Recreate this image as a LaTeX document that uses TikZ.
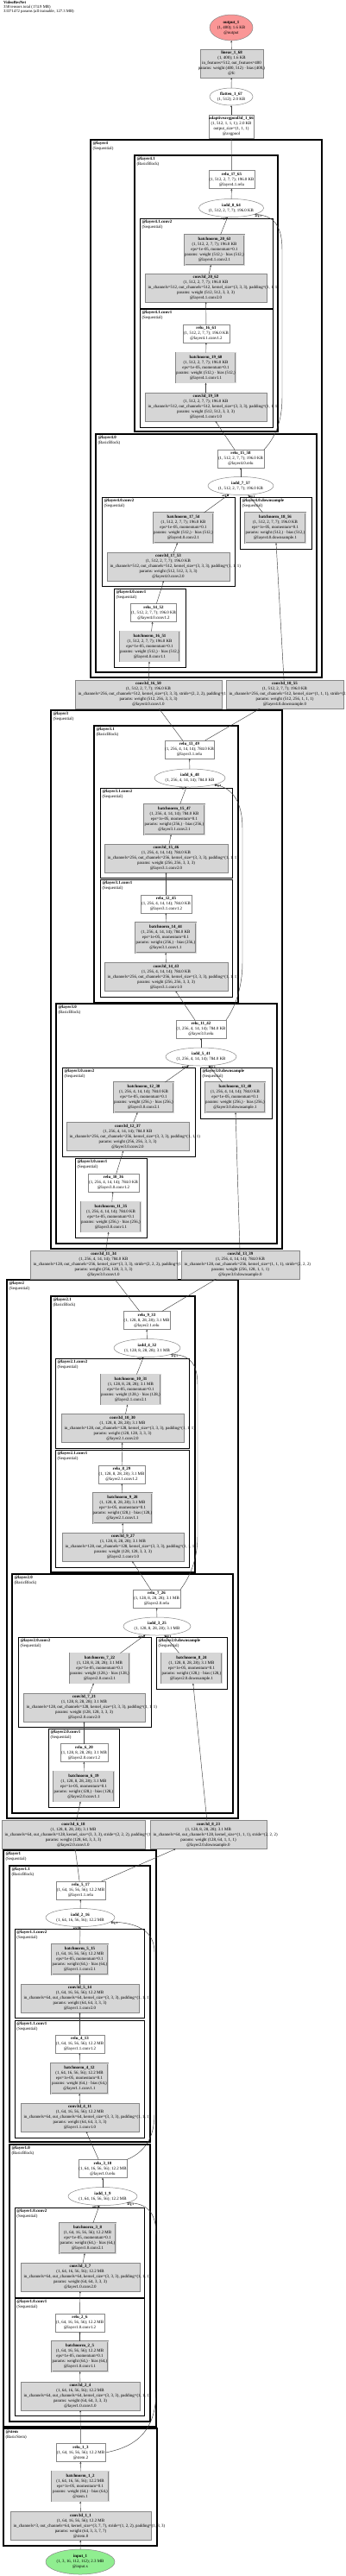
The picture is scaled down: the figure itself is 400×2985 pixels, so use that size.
\documentclass[tikz,border=0pt]{standalone}
\usepackage{fontspec}
\setmainfont{Liberation Serif}
\usetikzlibrary{shapes.geometric,arrows.meta}
\definecolor{boxgray}{RGB}{214,214,214}
\definecolor{bordgray}{RGB}{135,135,135}
\definecolor{outred}{RGB}{250,150,150}
\definecolor{ingreen}{RGB}{144,238,144}
\newcommand\cln[1]{\makebox[0pt]{#1}}
\newcommand\ShA{(1, 64, 16, 56, 56); 12.2 MB}
\newcommand\ShB{(1, 128, 8, 28, 28); 3.1 MB}
\newcommand\ShC{(1, 256, 4, 14, 14); 784.0 KB}
\newcommand\ShD{(1, 512, 2, 7, 7); 196.0 KB}
\newcommand\convN[8]{\node[conv, minimum width=#3pt] (#1) at (#2) {\cln{\textbf{#4}}\\\cln{#5}\\\makebox[0pt][l]{\hspace*{\dimexpr 3.5pt-#3pt/2\relax}#6}\\\cln{#7}\\\cln{#8}};}
\newcommand\bnN[7]{\node[bnorm, minimum width=#3pt] (#1) at (#2) {\cln{\textbf{#4}}\\\cln{#5}\\\cln{eps=1e-05, momentum=0.1}\\\cln{params: weight (#6,) · bias (#6,)}\\\cln{#7}};}
\newcommand\reluN[6]{\node[act, minimum width=#3pt] (#1) at (#2) {\cln{\textbf{#4}}\\\cln{#5}\\\cln{#6}};}
\newcommand\addN[5]{\node[addop, minimum width=#3pt] (#1) at (#2) {\cln{\textbf{#4}}\\\cln{#5}};}
\tikzset{
 base/.style={inner sep=0pt, outer sep=0pt, align=center, font=\fontsize{4.9}{6}\selectfont},
 conv/.style={base, rectangle, draw=bordgray, line width=0.5pt, fill=boxgray, minimum height=33pt},
 bnorm/.style={base, rectangle, draw=bordgray, line width=0.4pt, double=boxgray, double distance=0.9pt, fill=boxgray, minimum height=35pt},
 act/.style={base, rectangle, draw=bordgray, line width=0.5pt, fill=white, minimum height=21pt},
 addop/.style={base, ellipse, draw=bordgray, line width=0.5pt, fill=white, minimum height=21pt},
 clA/.style={draw=black, line width=1.6pt},
 clB/.style={draw=black, line width=1.2pt},
 clC/.style={draw=black, line width=0.9pt},
 cllab/.style={base, anchor=north west, align=left},
 conn/.style={draw=black!75, line width=0.45pt, -{Stealth[length=2.4pt,width=2pt]}},
 argl/.style={font=\fontsize{3.4}{4}\selectfont\bfseries, inner sep=0.4pt},
}
\begin{document}
\begin{tikzpicture}[x=1pt,y=-1pt]
\useasboundingbox (0,0) rectangle (400,2985);
\fill[white] (0,0) rectangle (400,2985);
\node[anchor=north west, align=left, inner sep=0pt, font=\fontsize{4.7}{4.7}\selectfont] (title) at (4,1.5) {\textbf{VideoResNet}\\358 tensors total (174.9 MB)\\33371472 params (all trainable, 127.3 MB)};
% ---------- clusters ----------
\draw[clA] (105,162) rectangle (373,785);
\node[cllab] (l4) at (107.5,164) {\textbf{@layer4}\\(Sequential)};
\draw[clB] (156,180) rectangle (322,500);
\node[cllab] (l41) at (158.5,182) {\textbf{@layer4.1}\\(BasicBlock)};
\draw[clC] (162,253) rectangle (316,357);
\node[cllab] (l41c2) at (164.5,255) {\textbf{@layer4.1.conv2}\\(Sequential)};
\draw[clC] (162,358) rectangle (316,495);
\node[cllab] (l41c1) at (164.5,360) {\textbf{@layer4.1.conv1}\\(Sequential)};
\draw[clB] (111,503) rectangle (367,779);
\node[cllab] (l40) at (113.5,505) {\textbf{@layer4.0}\\(BasicBlock)};
\draw[clC] (118,576) rectangle (272,679);
\node[cllab] (l40c2) at (120.5,578) {\textbf{@layer4.0.conv2}\\(Sequential)};
\draw[clC] (278,576) rectangle (361,636);
\node[cllab] (l40ds) at (280.5,578) {\textbf{@layer4.0.downsample}\\(Sequential)};
\draw[clC] (132,682) rectangle (215,773);
\node[cllab] (l40c1) at (134.5,684) {\textbf{@layer4.0.conv1}\\(Sequential)};
\draw[clA] (59,823) rectangle (327,1447);
\node[cllab] (l3) at (61.5,825) {\textbf{@layer3}\\(Sequential)};
\draw[clB] (109,841) rectangle (276,1162);
\node[cllab] (l31) at (111.5,843) {\textbf{@layer3.1}\\(BasicBlock)};
\draw[clC] (116,913) rectangle (269,1017);
\node[cllab] (l31c2) at (118.5,915) {\textbf{@layer3.1.conv2}\\(Sequential)};
\draw[clC] (116,1019) rectangle (269,1155);
\node[cllab] (l31c1) at (118.5,1021) {\textbf{@layer3.1.conv1}\\(Sequential)};
\draw[clB] (65,1163) rectangle (321,1441);
\node[cllab] (l30) at (67.5,1165) {\textbf{@layer3.0}\\(BasicBlock)};
\draw[clC] (72,1237) rectangle (226,1340);
\node[cllab] (l30c2) at (74.5,1239) {\textbf{@layer3.0.conv2}\\(Sequential)};
\draw[clC] (232,1237) rectangle (315,1296);
\node[cllab] (l30ds) at (234.5,1239) {\textbf{@layer3.0.downsample}\\(Sequential)};
\draw[clC] (87,1342) rectangle (170,1434);
\node[cllab] (l30c1) at (89.5,1344) {\textbf{@layer3.0.conv1}\\(Sequential)};
\draw[clA] (8,1483) rectangle (276,2107);
\node[cllab] (l2) at (10.5,1485) {\textbf{@layer2}\\(Sequential)};
\draw[clB] (59,1502) rectangle (226,1822);
\node[cllab] (l21) at (61.5,1504) {\textbf{@layer2.1}\\(BasicBlock)};
\draw[clC] (64,1574) rectangle (219,1678);
\node[cllab] (l21c2) at (66.5,1576) {\textbf{@layer2.1.conv2}\\(Sequential)};
\draw[clC] (64,1680) rectangle (219,1816);
\node[cllab] (l21c1) at (66.5,1682) {\textbf{@layer2.1.conv1}\\(Sequential)};
\draw[clB] (14,1824) rectangle (270,2101);
\node[cllab] (l20) at (16.5,1826) {\textbf{@layer2.0}\\(BasicBlock)};
\draw[clC] (21,1897) rectangle (175,2001);
\node[cllab] (l20c2) at (23.5,1899) {\textbf{@layer2.0.conv2}\\(Sequential)};
\draw[clC] (181,1897) rectangle (263,1957);
\node[cllab] (l20ds) at (183.5,1899) {\textbf{@layer2.0.downsample}\\(Sequential)};
\draw[clC] (56,2003) rectangle (138,2094);
\node[cllab] (l20c1) at (58.5,2005) {\textbf{@layer2.0.conv1}\\(Sequential)};
\draw[clA] (4,2144) rectangle (181,2812);
\node[cllab] (l1) at (6.5,2146) {\textbf{@layer1}\\(Sequential)};
\draw[clB] (11,2162) rectangle (174,2482);
\node[cllab] (l11) at (13.5,2164) {\textbf{@layer1.1}\\(BasicBlock)};
\draw[clC] (17,2235) rectangle (167,2338);
\node[cllab] (l11c2) at (19.5,2237) {\textbf{@layer1.1.conv2}\\(Sequential)};
\draw[clC] (17,2341) rectangle (167,2477);
\node[cllab] (l11c1) at (19.5,2343) {\textbf{@layer1.1.conv1}\\(Sequential)};
\draw[clB] (11,2485) rectangle (174,2806);
\node[cllab] (l10) at (13.5,2487) {\textbf{@layer1.0}\\(BasicBlock)};
\draw[clC] (17,2558) rectangle (167,2662);
\node[cllab] (l10c2) at (19.5,2560) {\textbf{@layer1.0.conv2}\\(Sequential)};
\draw[clC] (17,2663) rectangle (167,2799);
\node[cllab] (l10c1) at (19.5,2665) {\textbf{@layer1.0.conv1}\\(Sequential)};
\draw[clA] (4,2814) rectangle (182,2950);
\node[cllab] (lstem) at (6.5,2816) {\textbf{@stem}\\(BasicStem)};
% ---------- stem ----------
\node[addop, fill=ingreen, minimum width=80pt, minimum height=29pt] (in) at (93,2968.5) {\cln{\textbf{input\_1}}\\\cln{(1, 3, 16, 112, 112); 2.3 MB}\\\cln{@input.x}};
\convN{c1}{93.5,2927}{163}{conv3d\_1\_1}{\ShA}{in\_channels=3, out\_channels=64, kernel\_size=(3, 7, 7), stride=(1, 2, 2), padding=(1, 3, 3)}{params: weight (64, 3, 3, 7, 7)}{@stem.0}
\bnN{b2}{93,2881}{66}{batchnorm\_1\_2}{\ShA}{64}{@stem.1}
\reluN{r3}{93.5,2842}{57}{relu\_1\_3}{\ShA}{@stem.2}
% ---------- layer1 ----------
\convN{c4}{93,2776.5}{138}{conv3d\_2\_4}{\ShA}{in\_channels=64, out\_channels=64, kernel\_size=(3, 3, 3), padding=(1, 1, 1)}{params: weight (64, 64, 3, 3, 3)}{@layer1.0.conv1.0}
\bnN{b5}{92.5,2730.5}{65}{batchnorm\_2\_5}{\ShA}{64}{@layer1.0.conv1.1}
\reluN{r6}{92.5,2691.5}{57}{relu\_2\_6}{\ShA}{@layer1.0.conv1.2}
\convN{c7}{93,2638.5}{138}{conv3d\_3\_7}{\ShA}{in\_channels=64, out\_channels=64, kernel\_size=(3, 3, 3), padding=(1, 1, 1)}{params: weight (64, 64, 3, 3, 3)}{@layer1.0.conv2.0}
\bnN{b8}{101.5,2593.5}{65}{batchnorm\_3\_8}{\ShA}{64}{@layer1.0.conv2.1}
\addN{a9}{119,2545}{80}{iadd\_1\_9}{\ShA}
\reluN{r10}{119,2513}{56}{relu\_3\_10}{\ShA}{@layer1.0.relu}
\convN{c11}{92.5,2453.5}{137}{conv3d\_4\_11}{\ShA}{in\_channels=64, out\_channels=64, kernel\_size=(3, 3, 3), padding=(1, 1, 1)}{params: weight (64, 64, 3, 3, 3)}{@layer1.1.conv1.0}
\bnN{b12}{92,2408.5}{66}{batchnorm\_4\_12}{\ShA}{64}{@layer1.1.conv1.1}
\reluN{r13}{92.5,2368.5}{57}{relu\_4\_13}{\ShA}{@layer1.1.conv1.2}
\convN{c14}{92.5,2315.5}{137}{conv3d\_5\_14}{\ShA}{in\_channels=64, out\_channels=64, kernel\_size=(3, 3, 3), padding=(1, 1, 1)}{params: weight (64, 64, 3, 3, 3)}{@layer1.1.conv2.0}
\bnN{b15}{92.5,2270.5}{65}{batchnorm\_5\_15}{\ShA}{64}{@layer1.1.conv2.1}
\addN{a16}{93,2222}{80}{iadd\_2\_16}{\ShA}
\reluN{r17}{93.5,2190.5}{57}{relu\_5\_17}{\ShA}{@layer1.1.relu}
% ---------- layer2 ----------
\convN{c18}{85,2126}{166}{conv3d\_6\_18}{\ShB}{in\_channels=64, out\_channels=128, kernel\_size=(3, 3, 3), stride=(2, 2, 2), padding=(1, 1, 1)}{params: weight (128, 64, 3, 3, 3)}{@layer2.0.conv1.0}
\convN{c23}{241.5,2126}{135}{conv3d\_8\_23}{\ShB}{in\_channels=64, out\_channels=128, kernel\_size=(1, 1, 1), stride=(2, 2, 2)}{params: weight (128, 64, 1, 1, 1)}{@layer2.0.downsample.0}
\bnN{b19}{97,2070}{70}{batchnorm\_6\_19}{\ShB}{128}{@layer2.0.conv1.1}
\reluN{r20}{97.5,2031}{55}{relu\_6\_20}{\ShB}{@layer2.0.conv1.2}
\convN{c21}{97.5,1978.5}{141}{conv3d\_7\_21}{\ShB}{in\_channels=128, out\_channels=128, kernel\_size=(3, 3, 3), padding=(1, 1, 1)}{params: weight (128, 128, 3, 3, 3)}{@layer2.0.conv2.0}
\bnN{b22}{115.5,1933}{69}{batchnorm\_7\_22}{\ShB}{128}{@layer2.0.conv2.1}
\bnN{b24}{222,1933}{70}{batchnorm\_8\_24}{\ShB}{128}{@layer2.0.downsample.1}
\addN{a25}{182,1884.5}{78}{iadd\_3\_25}{\ShB}
\reluN{r26}{181.5,1852.5}{55}{relu\_7\_26}{\ShB}{@layer2.0.relu}
\convN{c27}{142.5,1792.5}{141}{conv3d\_9\_27}{\ShB}{in\_channels=128, out\_channels=128, kernel\_size=(3, 3, 3), padding=(1, 1, 1)}{params: weight (128, 128, 3, 3, 3)}{@layer2.1.conv1.0}
\bnN{b28}{142,1747.5}{68}{batchnorm\_9\_28}{\ShB}{128}{@layer2.1.conv1.1}
\reluN{r29}{141,1708.5}{54}{relu\_8\_29}{\ShB}{@layer2.1.conv1.2}
\convN{c30}{142,1655}{142}{conv3d\_10\_30}{\ShB}{in\_channels=128, out\_channels=128, kernel\_size=(3, 3, 3), padding=(1, 1, 1)}{params: weight (128, 128, 3, 3, 3)}{@layer2.1.conv2.0}
\bnN{b31}{151.5,1610}{69}{batchnorm\_10\_31}{\ShB}{128}{@layer2.1.conv2.1}
\addN{a32}{170.5,1562}{77}{iadd\_4\_32}{\ShB}
\reluN{r33}{170,1530}{54}{relu\_9\_33}{\ShB}{@layer2.1.relu}
% ---------- layer3 ----------
\convN{c34}{120,1465.5}{170}{conv3d\_11\_34}{\ShC}{in\_channels=128, out\_channels=256, kernel\_size=(3, 3, 3), stride=(2, 2, 2), padding=(1, 1, 1)}{params: weight (256, 128, 3, 3, 3)}{@layer3.0.conv1.0}
\convN{c39}{278.5,1465.5}{137}{conv3d\_13\_39}{\ShC}{in\_channels=128, out\_channels=256, kernel\_size=(1, 1, 1), stride=(2, 2, 2)}{params: weight (256, 128, 1, 1, 1)}{@layer3.0.downsample.0}
\bnN{b35}{128.5,1410}{69}{batchnorm\_11\_35}{\ShC}{256}{@layer3.0.conv1.1}
\reluN{r36}{131.5,1370.5}{59}{relu\_10\_36}{\ShC}{@layer3.0.conv1.2}
\convN{c37}{148,1317}{142}{conv3d\_12\_37}{\ShC}{in\_channels=256, out\_channels=256, kernel\_size=(3, 3, 3), padding=(1, 1, 1)}{params: weight (256, 256, 3, 3, 3)}{@layer3.0.conv2.0}
\bnN{b38}{166.5,1271.5}{69}{batchnorm\_12\_38}{\ShC}{256}{@layer3.0.conv2.1}
\bnN{b40}{272.5,1271.5}{69}{batchnorm\_13\_40}{\ShC}{256}{@layer3.0.downsample.1}
\addN{a41}{233,1224.5}{82}{iadd\_5\_41}{\ShC}
\reluN{r42}{233,1192.5}{58}{relu\_11\_42}{\ShC}{@layer3.0.relu}
\convN{c43}{192.5,1132}{143}{conv3d\_14\_43}{\ShC}{in\_channels=256, out\_channels=256, kernel\_size=(3, 3, 3), padding=(1, 1, 1)}{params: weight (256, 256, 3, 3, 3)}{@layer3.1.conv1.0}
\bnN{b44}{192,1086.5}{70}{batchnorm\_14\_44}{\ShC}{256}{@layer3.1.conv1.1}
\reluN{r45}{192.5,1047.5}{59}{relu\_12\_45}{\ShC}{@layer3.1.conv1.2}
\convN{c46}{192.5,994.5}{143}{conv3d\_15\_46}{\ShC}{in\_channels=256, out\_channels=256, kernel\_size=(3, 3, 3), padding=(1, 1, 1)}{params: weight (256, 256, 3, 3, 3)}{@layer3.1.conv2.0}
\bnN{b47}{202,949.5}{70}{batchnorm\_15\_47}{\ShC}{256}{@layer3.1.conv2.1}
\addN{a48}{220,901.5}{82}{iadd\_6\_48}{\ShC}
\reluN{r49}{219.5,868.5}{57}{relu\_13\_49}{\ShC}{@layer3.1.relu}
% ---------- layer4 ----------
\convN{c50}{172,804.5}{170}{conv3d\_16\_50}{\ShD}{in\_channels=256, out\_channels=512, kernel\_size=(3, 3, 3), stride=(2, 2, 2), padding=(1, 1, 1)}{params: weight (512, 256, 3, 3, 3)}{@layer4.0.conv1.0}
\convN{c55}{330,804.5}{136}{conv3d\_18\_55}{\ShD}{in\_channels=256, out\_channels=512, kernel\_size=(1, 1, 1), stride=(2, 2, 2)}{params: weight (512, 256, 1, 1, 1)}{@layer4.0.downsample.0}
\bnN{b51}{173.5,749}{69}{batchnorm\_16\_51}{\ShD}{512}{@layer4.0.conv1.1}
\reluN{r52}{178,710}{53}{relu\_14\_52}{\ShD}{@layer4.0.conv1.2}
\convN{c53}{195,656.5}{142}{conv3d\_17\_53}{\ShD}{in\_channels=512, out\_channels=512, kernel\_size=(3, 3, 3), padding=(1, 1, 1)}{params: weight (512, 512, 3, 3, 3)}{@layer4.0.conv2.0}
\bnN{b54}{212.5,611.5}{69}{batchnorm\_17\_54}{\ShD}{512}{@layer4.0.conv2.1}
\bnN{b56}{319,611.5}{70}{batchnorm\_18\_56}{\ShD}{512}{@layer4.0.downsample.1}
\addN{a57}{279,563}{76}{iadd\_7\_57}{\ShD}
\reluN{r58}{279,531.5}{54}{relu\_15\_58}{\ShD}{@layer4.0.relu}
\convN{c59}{238.5,471.5}{141}{conv3d\_19\_59}{\ShD}{in\_channels=512, out\_channels=512, kernel\_size=(3, 3, 3), padding=(1, 1, 1)}{params: weight (512, 512, 3, 3, 3)}{@layer4.1.conv1.0}
\bnN{b60}{238.5,426}{69}{batchnorm\_19\_60}{\ShD}{512}{@layer4.1.conv1.1}
\reluN{r61}{239,386.5}{54}{relu\_16\_61}{\ShD}{@layer4.1.conv1.2}
\convN{c62}{238.5,333.5}{141}{conv3d\_20\_62}{\ShD}{in\_channels=512, out\_channels=512, kernel\_size=(3, 3, 3), padding=(1, 1, 1)}{params: weight (512, 512, 3, 3, 3)}{@layer4.1.conv2.0}
\bnN{b63}{248.5,289.5}{69}{batchnorm\_20\_63}{\ShD}{512}{@layer4.1.conv2.1}
\addN{a64}{268,241}{75}{iadd\_8\_64}{\ShD}
\reluN{r65}{268.5,208}{53}{relu\_17\_65}{\ShD}{@layer4.1.relu}
% ---------- head ----------
\node[act, minimum width=52pt, minimum height=27pt] (pool66) at (268,146.5) {\cln{\textbf{adaptiveavgpool3d\_1\_66}}\\\cln{(1, 512, 1, 1, 1); 2.0 KB}\\\cln{output\_size=(1, 1, 1)}\\\cln{@avgpool}};
\node[addop, minimum width=50pt, minimum height=20pt] (flat67) at (268,112) {\cln{\textbf{flatten\_1\_67}}\\\cln{(1, 512); 2.0 KB}};
\node[conv, minimum width=73pt] (lin68) at (268.5,73.5) {\cln{\textbf{linear\_1\_68}}\\\cln{(1, 400); 1.6 KB}\\\cln{in\_features=512, out\_features=400}\\\cln{params: weight (400, 512) · bias (400,)}\\\cln{@fc}};
\node[addop, fill=outred, minimum width=50pt, minimum height=30pt] (out) at (268,32) {\cln{\textbf{output\_1}}\\\cln{(1, 400); 1.6 KB}\\\cln{@output}};
% ---------- connectors ----------
\draw[conn] (in) -- (c1);
\draw[conn] (c1) -- (b2);
\draw[conn] (b2) -- (r3);
\draw[conn] (r3) -- (c4);
\draw[conn] (c4) -- (b5);
\draw[conn] (b5) -- (r6);
\draw[conn] (r6) -- (c7);
\draw[conn] (c7) -- (b8);
\draw[conn] (b8) -- (a9) node[argl, pos=1, anchor=north east] {arg 0};
\draw[conn] (r3.east) .. controls (160,2835) and (181,2815) .. (181,2770) -- (181,2590) .. controls (181,2565) and (172,2553) .. (a9.-15) node[argl, pos=1, anchor=north west] {arg 1};
\draw[conn] (a9) -- (r10);
\draw[conn] (r10) -- (c11);
\draw[conn] (c11) -- (b12);
\draw[conn] (b12) -- (r13);
\draw[conn] (r13) -- (c14);
\draw[conn] (c14) -- (b15);
\draw[conn] (b15) -- (a16) node[argl, pos=1, anchor=north east] {arg 0};
\draw[conn] (r10.north east) .. controls (165,2495) and (179,2480) .. (179,2450) -- (179,2262) .. controls (179,2238) and (160,2228) .. (a16.-8) node[argl, pos=1, anchor=north west] {arg 1};
\draw[conn] (a16) -- (r17);
\draw[conn] (r17) -- (c18);
\draw[conn] (r17) -- (c23);
\draw[conn] (c18) -- (b19);
\draw[conn] (b19) -- (r20);
\draw[conn] (r20) -- (c21);
\draw[conn] (c21) -- (b22);
\draw[conn] (b22) -- (a25) node[argl, pos=1, anchor=north east] {arg 0};
\draw[conn] (c23) -- (b24);
\draw[conn] (b24) -- (a25) node[argl, pos=1, anchor=north west] {arg 1};
\draw[conn] (a25) -- (r26);
\draw[conn] (r26) -- (c27);
\draw[conn] (c27) -- (b28);
\draw[conn] (b28) -- (r29);
\draw[conn] (r29) -- (c30);
\draw[conn] (c30) -- (b31);
\draw[conn] (b31) -- (a32) node[argl, pos=1, anchor=north east] {arg 0};
\draw[conn] (r26.north east) .. controls (218,1830) and (229,1810) .. (229,1780) -- (229,1605) .. controls (229,1580) and (220,1570) .. (a32.-15) node[argl, pos=1, anchor=north west] {arg 1};
\draw[conn] (a32) -- (r33);
\draw[conn] (r33) -- (c34);
\draw[conn] (r33) -- (c39);
\draw[conn] (c34) -- (b35);
\draw[conn] (b35) -- (r36);
\draw[conn] (r36) -- (c37);
\draw[conn] (c37) -- (b38);
\draw[conn] (b38) -- (a41) node[argl, pos=1, anchor=north east] {arg 0};
\draw[conn] (c39) -- (b40);
\draw[conn] (b40) -- (a41) node[argl, pos=1, anchor=north west] {arg 1};
\draw[conn] (a41) -- (r42);
\draw[conn] (r42) -- (c43);
\draw[conn] (c43) -- (b44);
\draw[conn] (b44) -- (r45);
\draw[conn] (r45) -- (c46);
\draw[conn] (c46) -- (b47);
\draw[conn] (b47) -- (a48) node[argl, pos=1, anchor=north east] {arg 0};
\draw[conn] (r42.north east) .. controls (272,1168) and (281,1145) .. (281,1115) -- (281,960) .. controls (281,930) and (270,913) .. (a48.-15) node[argl, pos=1, anchor=north west] {arg 1};
\draw[conn] (a48) -- (r49);
\draw[conn] (r49) -- (c50);
\draw[conn] (r49) -- (c55);
\draw[conn] (c50) -- (b51);
\draw[conn] (b51) -- (r52);
\draw[conn] (r52) -- (c53);
\draw[conn] (c53) -- (b54);
\draw[conn] (b54) -- (a57) node[argl, pos=1, anchor=north east] {arg 0};
\draw[conn] (c55) -- (b56);
\draw[conn] (b56) -- (a57) node[argl, pos=1, anchor=north west] {arg 1};
\draw[conn] (a57) -- (r58);
\draw[conn] (r58) -- (c59);
\draw[conn] (c59) -- (b60);
\draw[conn] (b60) -- (r61);
\draw[conn] (r61) -- (c62);
\draw[conn] (c62) -- (b63);
\draw[conn] (b63) -- (a64) node[argl, pos=1, anchor=north east] {arg 0};
\draw[conn] (r58.north east) .. controls (318,508) and (327,490) .. (327,460) -- (327,290) .. controls (327,262) and (318,250) .. (a64.-15) node[argl, pos=1, anchor=north west] {arg 1};
\draw[conn] (a64) -- (r65);
\draw[conn] (r65) -- (pool66);
\draw[conn] (pool66) -- (flat67);
\draw[conn] (flat67) -- (lin68);
\draw[conn] (lin68) -- (out);
\end{tikzpicture}
\end{document}
